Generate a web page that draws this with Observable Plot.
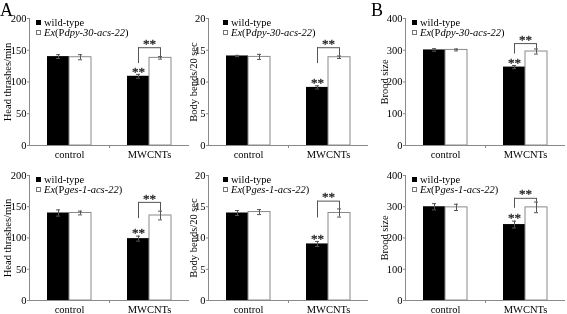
<!DOCTYPE html>
<html>
<head>
<meta charset="utf-8">
<script src="https://cdn.jsdelivr.net/npm/d3@7"></script>
<script src="https://cdn.jsdelivr.net/npm/@observablehq/plot@0.6"></script>
<style>
  body { margin: 0; background: #fff; }
  #chart { position: relative; width: 567px; height: 314px; background: #fff; font-family: "Liberation Serif", "Times New Roman", serif; color: #000; overflow: hidden; }
  .pane { position: absolute; will-change: transform; }
  .tag { position: absolute; font-size: 18px; line-height: 14px; }
  .legend { position: absolute; font-size: 10.5px; line-height: 9.6px; white-space: nowrap; }
  .legend div { height: 9.6px; }
  .legend .sw { display: inline-block; width: 5px; height: 5px; margin-right: 3px; vertical-align: 1px; box-sizing: border-box; }
</style>
</head>
<body>
<div id="chart"></div>
<script>
// ---- data ----
const categories = ["control", "MWCNTs"];
const promoters = ["dpy-30", "ges-1"];
const gene = "acs-22";
const yLabels = ["Head thrashes/min", "Body bends/20 sec", "Brood size"];
const yMaxes = [200, 20, 400];
const ySteps = [50, 5, 100];
const sigMark = "**";

// row 1: Ex(Pdpy-30-acs-22)
const headDpyWild = [140, 109], headDpyWildSE = [3, 3];
const headDpyTg = [139, 138], headDpyTgSE = [4, 2];
const bendDpyWild = [14.1, 9.15], bendDpyWildSE = [0.1, 0.25];
const bendDpyTg = [13.95, 13.9], bendDpyTgSE = [0.4, 0.2];
const broodDpyWild = [301, 247], broodDpyWildSE = [4, 5];
const broodDpyTg = [301, 296], broodDpyTgSE = [3, 8];
// row 2: Ex(Pges-1-acs-22)
const headGesWild = [140, 99], headGesWildSE = [5, 4];
const headGesTg = [140, 136], headGesTgSE = [3, 7];
const bendGesWild = [14.0, 9.05], bendGesWildSE = [0.4, 0.4];
const bendGesTg = [14.15, 14.0], bendGesTgSE = [0.4, 0.65];
const broodGesWild = [300, 243], broodGesWildSE = [10, 11];
const broodGesTg = [298, 298], broodGesTgSE = [10, 17];
// significance bracket: top level and lower end of the left leg (data units)
const bracketLevels = [154, 15.4, 321, 157, 15.9, 327];
const bracketLegLows = [129, 12.9, 288, 131, 13.2, 295];

const panels = [
  {row: 0, col: 0, wild: headDpyWild, wildSE: headDpyWildSE, tg: headDpyTg, tgSE: headDpyTgSE},
  {row: 0, col: 1, wild: bendDpyWild, wildSE: bendDpyWildSE, tg: bendDpyTg, tgSE: bendDpyTgSE},
  {row: 0, col: 2, wild: broodDpyWild, wildSE: broodDpyWildSE, tg: broodDpyTg, tgSE: broodDpyTgSE},
  {row: 1, col: 0, wild: headGesWild, wildSE: headGesWildSE, tg: headGesTg, tgSE: headGesTgSE},
  {row: 1, col: 1, wild: bendGesWild, wildSE: bendGesWildSE, tg: bendGesTg, tgSE: bendGesTgSE},
  {row: 1, col: 2, wild: broodGesWild, wildSE: broodGesWildSE, tg: broodGesTg, tgSE: broodGesTgSE}
];

// ---- layout ----
const colLeft = [0, 180, 376];
const colWidth = [190, 190, 191];
const colMarginLeft = [29, 28, 29];
const colMarginRight = [1, 2, 2];
const colLabelOffset = [26, 19, 25];
const rowTop = [0, 157];
const rowHeight = [160, 157];
const rowMarginBottom = [15, 14];
const legendDx = [7, 15, 7];
const legendTop = [18, 175];

const root = document.getElementById("chart");
const grey = "#8a8a8a";
const errGrey = "#555";
const serif = "'Liberation Serif', 'Times New Roman', serif";

panels.forEach((p, k) => {
  const yMax = yMaxes[p.col], step = ySteps[p.col];
  const wildRows = categories.map((c, i) => ({cat: c, mean: p.wild[i], se: p.wildSE[i]}));
  const tgRows = categories.map((c, i) => ({cat: c, mean: p.tg[i], se: p.tgSE[i]}));
  const br = [{cat: "MWCNTs", y: bracketLevels[k], low: bracketLegLows[k],
               wTop: p.wild[1] + p.wildSE[1], tTop: p.tg[1] + p.tgSE[1]}];

  const chart = Plot.plot({
    width: colWidth[p.col],
    height: rowHeight[p.row],
    marginLeft: colMarginLeft[p.col],
    marginRight: colMarginRight[p.col],
    marginTop: 18,
    marginBottom: rowMarginBottom[p.row],
    style: {fontFamily: serif, fontSize: "10px", background: "transparent", color: "#000", overflow: "visible"},
    x: {domain: categories, padding: 0},
    y: {domain: [0, yMax]},
    marks: [
      Plot.axisY({ticks: d3.range(0, yMax + step / 2, step), tickSize: 2, tickPadding: 1, stroke: grey, fill: "#000",
        fontSize: 10.5, label: yLabels[p.col], labelAnchor: "center", labelArrow: "none", labelOffset: colLabelOffset[p.col]}),
      Plot.axisX({tickSize: 0, tickPadding: 5, fontSize: 10.5, label: null, fill: "#000"}),
      // bars
      Plot.barY(wildRows, {x: "cat", y: "mean", fill: "#000", insetLeft: 18, insetRight: 40}),
      Plot.barY(tgRows, {x: "cat", y: "mean", fill: "#fff", stroke: grey, strokeWidth: 1, insetLeft: 40, insetRight: 18}),
      // error bars
      Plot.ruleX(wildRows, {x: "cat", y1: d => d.mean - d.se, y2: d => d.mean + d.se, dx: -11, stroke: errGrey}),
      Plot.tickY(wildRows, {x: "cat", y: d => d.mean + d.se, insetLeft: 27, insetRight: 49, stroke: errGrey}),
      Plot.tickY(wildRows, {x: "cat", y: d => d.mean - d.se, insetLeft: 27, insetRight: 49, stroke: errGrey}),
      Plot.ruleX(tgRows, {x: "cat", y1: d => d.mean - d.se, y2: d => d.mean + d.se, dx: 11, stroke: errGrey}),
      Plot.tickY(tgRows, {x: "cat", y: d => d.mean + d.se, insetLeft: 49, insetRight: 27, stroke: errGrey}),
      Plot.tickY(tgRows, {x: "cat", y: d => d.mean - d.se, insetLeft: 49, insetRight: 27, stroke: errGrey}),
      // axis lines
      Plot.ruleY([0], {stroke: grey}),
      Plot.ruleX(["control"], {x: d => d, y1: 0, y2: yMax, dx: -40, stroke: grey}),
      Plot.ruleX(["MWCNTs"], {x: d => d, y1: 0, y2: 0, dx: -40, insetBottom: -3, stroke: grey}),
      // significance bracket
      Plot.tickY(br, {x: "cat", y: "y", insetLeft: 29, insetRight: 29, stroke: errGrey}),
      Plot.ruleX(br, {x: "cat", y1: "low", y2: "y", dx: -11, stroke: errGrey}),
      Plot.ruleX(br, {x: "cat", y1: "tTop", y2: "y", dx: 11, stroke: errGrey}),
      Plot.text(br, {x: "cat", y: "wTop", dx: -11, dy: -3, text: () => sigMark, fontSize: 13, fontFamily: serif,
        fill: "#222", stroke: "#222", strokeWidth: 0.3}),
      Plot.text(br, {x: "cat", y: "y", dy: -4, text: () => sigMark, fontSize: 13, fontFamily: serif,
        fill: "#222", stroke: "#222", strokeWidth: 0.3})
    ]
  });
  const pane = document.createElement("div");
  pane.className = "pane";
  pane.style.left = colLeft[p.col] + "px";
  pane.style.top = rowTop[p.row] + "px";
  pane.appendChild(chart);
  root.appendChild(pane);

  const lg = document.createElement("div");
  lg.className = "legend";
  lg.style.left = (colLeft[p.col] + colMarginLeft[p.col] + legendDx[p.col]) + "px";
  lg.style.top = legendTop[p.row] + "px";
  lg.innerHTML =
    `<div><span class="sw" style="background:#000"></span>wild-type</div>` +
    `<div><span class="sw" style="background:#fff;border:1px solid #777"></span><i>Ex</i>(P<i>${promoters[p.row]}-${gene}</i>)</div>`;
  root.appendChild(lg);
});

const tagA = document.createElement("div");
tagA.className = "tag"; tagA.textContent = "A";
tagA.style.left = "0px"; tagA.style.top = "3px";
root.appendChild(tagA);
const tagB = document.createElement("div");
tagB.className = "tag"; tagB.textContent = "B";
tagB.style.left = "371px"; tagB.style.top = "3px";
root.appendChild(tagB);
</script>
</body>
</html>
